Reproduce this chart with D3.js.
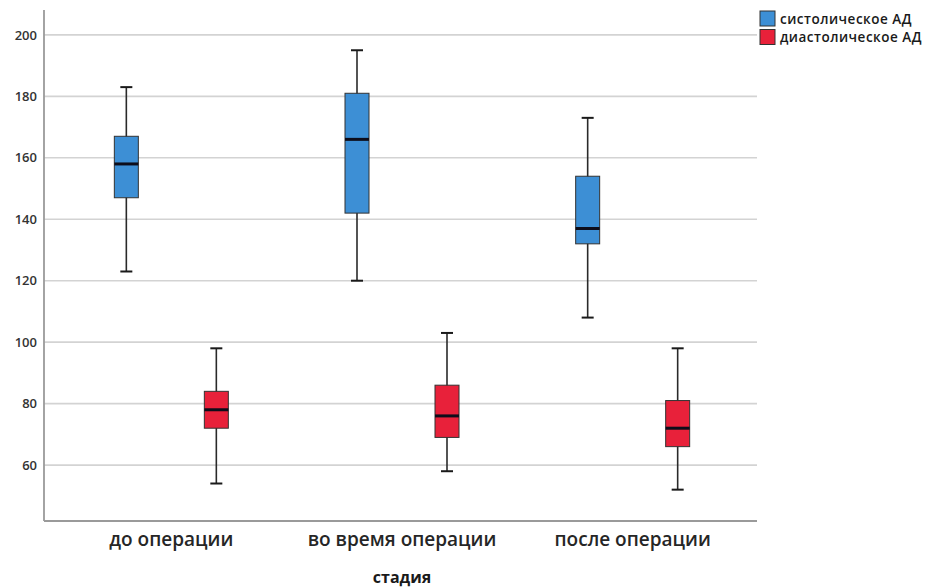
<!DOCTYPE html>
<html>
<head>
<meta charset="utf-8">
<script src="https://cdn.jsdelivr.net/npm/d3@7/dist/d3.min.js"></script>
<style>
  html, body { margin: 0; padding: 0; background: #ffffff; }
  svg { display: block; }
  text { font-family: "Open Sans", "DejaVu Sans", sans-serif; }
</style>
</head>
<body>
<svg id="chart" width="949" height="587"></svg>
<script>
// Stages and series
const categories = ["до операции", "во время операции", "после операции"];
const series = ["систолическое АД", "диастолическое АД"];
const seriesColors = ["#3d8fd5", "#e8213a"];

// Box-plot statistics per stage: systolic pressure
const sysMin = [123, 120, 108];
const sysQ1  = [147, 142, 132];
const sysMed = [158, 166, 137];
const sysQ3  = [167, 181, 154];
const sysMax = [183, 195, 173];

// Box-plot statistics per stage: diastolic pressure
const diaMin = [54, 58, 52];
const diaQ1  = [72, 69, 66];
const diaMed = [78, 76, 72];
const diaQ3  = [84, 86, 81];
const diaMax = [98, 103, 98];

const yTicks = [60, 80, 100, 120, 140, 160, 180, 200];
const xTitle = "стадия";

// Rows built from the arrays above
const stats = [
  { min: sysMin, q1: sysQ1, med: sysMed, q3: sysQ3, max: sysMax },
  { min: diaMin, q1: diaQ1, med: diaMed, q3: diaQ3, max: diaMax }
];
const boxes = [];
categories.forEach((c, i) => {
  series.forEach((s, j) => {
    const st = stats[j];
    boxes.push({ cat: c, ser: s, color: seriesColors[j],
      min: st.min[i], q1: st.q1[i], med: st.med[i], q3: st.q3[i], max: st.max[i] });
  });
});

const svg = d3.select("#chart");
const plot = { left: 44, right: 757, top: 10, bottom: 521 };

const y = d3.scaleLinear().domain([41.8, 208.1]).range([plot.bottom, plot.top]);
const x = d3.scaleBand().domain(categories).range([56, 748]).padding(0);
const bw = x.bandwidth();
const xs = d3.scalePoint().domain(series).range([bw / 2 - 45, bw / 2 + 45]);

const boxW = 24, capW = 12;

// Horizontal grid lines
svg.append("g")
  .selectAll("line")
  .data(yTicks)
  .join("line")
  .attr("x1", plot.left).attr("x2", plot.right)
  .attr("y1", d => y(d)).attr("y2", d => y(d))
  .attr("stroke", "#d3d3d3").attr("stroke-width", 1.6);

// Y axis
const yAxis = svg.append("g")
  .attr("transform", `translate(${plot.left},0)`)
  .call(d3.axisLeft(y).tickValues(yTicks).tickSize(0).tickPadding(7));
yAxis.select(".domain").remove();
yAxis.selectAll("text")
  .attr("fill", "#333").attr("font-size", 13).attr("font-weight", 600);

// X axis labels
const xAxis = svg.append("g")
  .attr("transform", `translate(0,${plot.bottom})`)
  .call(d3.axisBottom(x).tickSize(0).tickPadding(12));
xAxis.select(".domain").remove();
xAxis.selectAll("text")
  .attr("fill", "#262626").attr("font-size", 19).attr("font-weight", 600);

// Frame: left and bottom axis lines
svg.append("line")
  .attr("x1", plot.left).attr("x2", plot.left)
  .attr("y1", plot.top).attr("y2", plot.bottom)
  .attr("stroke", "#9a9a9a").attr("stroke-width", 1.8);
svg.append("line")
  .attr("x1", plot.left).attr("x2", plot.right)
  .attr("y1", plot.bottom).attr("y2", plot.bottom)
  .attr("stroke", "#9a9a9a").attr("stroke-width", 1.8);

// Axis title
svg.append("text")
  .attr("x", x("во время операции") + bw / 2)
  .attr("y", 583)
  .attr("text-anchor", "middle")
  .attr("fill", "#1a1a1a").attr("font-size", 16).attr("font-weight", 700)
  .text(xTitle);

// Boxes
const g = svg.append("g")
  .selectAll("g")
  .data(boxes)
  .join("g")
  .attr("transform", d => `translate(${x(d.cat) + xs(d.ser)},0)`);

g.append("line")
  .attr("x1", 0).attr("x2", 0)
  .attr("y1", d => y(d.max)).attr("y2", d => y(d.min))
  .attr("stroke", "#2a2a2a").attr("stroke-width", 1.6);
g.append("line")
  .attr("x1", -capW / 2).attr("x2", capW / 2)
  .attr("y1", d => y(d.max)).attr("y2", d => y(d.max))
  .attr("stroke", "#1a1a1a").attr("stroke-width", 2);
g.append("line")
  .attr("x1", -capW / 2).attr("x2", capW / 2)
  .attr("y1", d => y(d.min)).attr("y2", d => y(d.min))
  .attr("stroke", "#1a1a1a").attr("stroke-width", 2);
g.append("rect")
  .attr("x", -boxW / 2).attr("width", boxW)
  .attr("y", d => y(d.q3)).attr("height", d => y(d.q1) - y(d.q3))
  .attr("fill", d => d.color)
  .attr("stroke", "#333").attr("stroke-width", 1);
g.append("line")
  .attr("x1", -boxW / 2).attr("x2", boxW / 2)
  .attr("y1", d => y(d.med)).attr("y2", d => y(d.med))
  .attr("stroke", "#0d0d1a").attr("stroke-width", 3);

// Legend
const legend = svg.append("g")
  .selectAll("g")
  .data(series)
  .join("g")
  .attr("transform", (d, i) => `translate(760,${11 + i * 18.5})`);
legend.append("rect")
  .attr("width", 15).attr("height", 15)
  .attr("fill", (d, i) => seriesColors[i])
  .attr("stroke", "#333").attr("stroke-width", 1);
legend.append("text")
  .attr("x", 20).attr("y", 12.5)
  .attr("fill", "#1a1a1a").attr("font-size", 13.5).attr("font-weight", 600)
  .attr("letter-spacing", 0.5)
  .text(d => d);
</script>
</body>
</html>
